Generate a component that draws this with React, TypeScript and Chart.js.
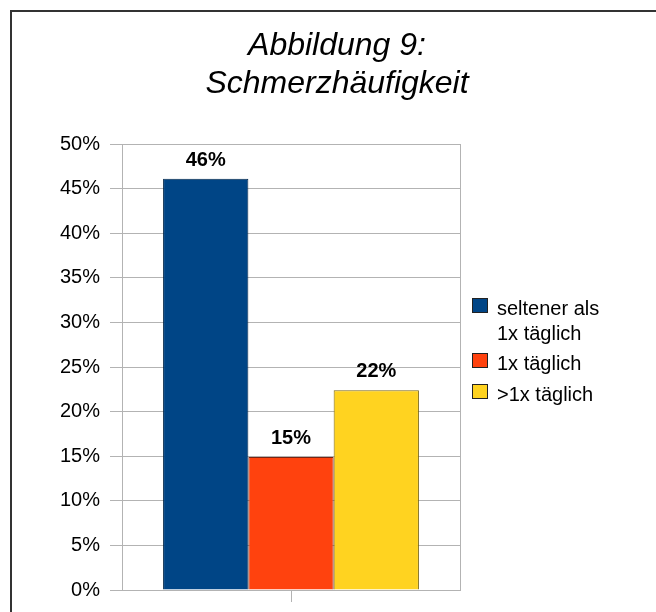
import React, { useEffect, useRef } from "react";
import { Chart, registerables } from "chart.js";

Chart.register(...registerables);

const categories = [""];
const seriesLabels = ["seltener als\n1x täglich", "1x täglich", ">1x täglich"];
const seriesValues = [[46.1], [14.9], [22.4]];
const seriesColors = ["#004586", "#ff420e", "#ffd320"];
const seriesBorders = ["#00264a", "#7a2410", "#7a6612"];
const titleLines = ["Abbildung 9:", "Schmerzhäufigkeit"];
const yTickValues = [0, 5, 10, 15, 20, 25, 30, 35, 40, 45, 50];

const FONT = "'Liberation Sans', Arial, sans-serif";

const plotFrame = {
  id: "plotFrame",
  beforeDatasetsDraw(chart: any) {
    const { ctx, chartArea } = chart;
    ctx.save();
    ctx.strokeStyle = "#b3b3b3";
    ctx.lineWidth = 1;
    const x = Math.round(chartArea.right) + 0.5;
    ctx.beginPath();
    ctx.moveTo(x, chartArea.top);
    ctx.lineTo(x, chartArea.bottom);
    ctx.stroke();
    ctx.restore();
  },
};

const extras = {
  id: "extras",
  afterDraw(chart: any) {
    const { ctx } = chart;
    ctx.save();
    // title
    ctx.fillStyle = "#000";
    ctx.font = `italic 32px ${FONT}`;
    ctx.textAlign = "center";
    ctx.textBaseline = "alphabetic";
    titleLines.forEach((t, i) => ctx.fillText(t, 337, 55 + i * 38));

    // value labels
    ctx.font = `bold 20px ${FONT}`;
    chart.data.datasets.forEach((ds: any, di: number) => {
      const meta = chart.getDatasetMeta(di);
      meta.data.forEach((el: any, i: number) => {
        const v = ds.data[i];
        ctx.fillText(Math.round(v) + "%", el.x, el.y - 13);
      });
    });

    // legend
    ctx.font = `20px ${FONT}`;
    ctx.textAlign = "left";
    const baselines = [[315, 340], [370], [401]];
    chart.data.datasets.forEach((ds: any, di: number) => {
      const lines = String(ds.label).split("\n");
      const bl = baselines[di];
      ctx.fillStyle = ds.backgroundColor;
      ctx.fillRect(472, bl[0] - 17, 16, 15);
      ctx.strokeStyle = "#222";
      ctx.lineWidth = 1;
      ctx.strokeRect(472.5, bl[0] - 16.5, 15, 14);
      ctx.fillStyle = "#000";
      lines.forEach((ln, li) => ctx.fillText(ln, 497, bl[li] ?? bl[0] + li * 25));
    });
    ctx.restore();
  },
};

export default function App() {
  const ref = useRef<HTMLCanvasElement | null>(null);
  useEffect(() => {
    if (!ref.current) return;
    const chart = new Chart(ref.current, {
      type: "bar",
      data: {
        labels: categories,
        datasets: seriesLabels.map((label, i) => ({
          label,
          data: seriesValues[i],
          backgroundColor: seriesColors[i],
          borderColor: seriesBorders[i],
          borderWidth: 1,
          categoryPercentage: 0.757,
          barPercentage: 1.0,
        })),
      },
      options: {
        responsive: false,
        animation: false,
        layout: { padding: { left: 0, right: 196, top: 144, bottom: 0 } },
        plugins: {
          legend: { display: false },
          title: { display: false },
          tooltip: { enabled: false },
        },
        scales: {
          x: {
            grid: {
              offset: false,
              drawOnChartArea: false,
              drawTicks: true,
              tickLength: 12,
              color: "#b3b3b3",
            },
            border: { display: true, color: "#b3b3b3" },
            ticks: { display: false },
            afterFit(scale: any) {
              scale.height = 22;
            },
          },
          y: {
            min: 0,
            max: 50,
            afterBuildTicks(scale: any) {
              scale.ticks = yTickValues.map((v) => ({ value: v }));
            },
            ticks: {
              stepSize: 5,
              padding: 10,
              color: "#000",
              font: { family: FONT, size: 20 },
              callback: (v: any) => v + "%",
            },
            grid: { color: "#b3b3b3", tickLength: 12, drawTicks: true },
            border: { display: true, color: "#b3b3b3" },
            afterFit(scale: any) {
              scale.width = 122;
            },
          },
        },
      },
      plugins: [plotFrame, extras],
    });
    return () => chart.destroy();
  }, []);

  return (
    <div
      style={{
        position: "fixed",
        left: 0,
        top: 0,
        width: 656,
        height: 612,
        overflow: "hidden",
        background: "#fff",
      }}
    >
      <div
        style={{
          position: "absolute",
          left: 10,
          top: 10,
          width: 800,
          height: 800,
          border: "2px solid #333",
          boxSizing: "border-box",
        }}
      />
      <canvas
        ref={ref}
        width={656}
        height={612}
        style={{ position: "absolute", left: 0, top: 0 }}
      />
    </div>
  );
}
